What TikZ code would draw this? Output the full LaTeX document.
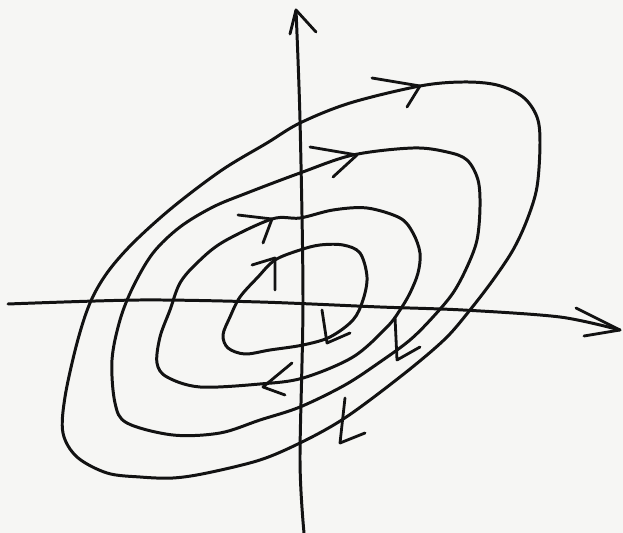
\documentclass[tikz,border=0pt]{standalone}
\usetikzlibrary{calc}
\definecolor{ink}{RGB}{18,18,18}
\definecolor{paper}{RGB}{246,246,244}
\tikzset{
  stroke/.style={draw=ink, line width=1.7pt, line cap=round, line join=round},
  loopline/.style={smooth cycle, tension=0.55},
  axisline/.style={smooth, tension=0.5},
  barb/.style={stroke, line width=1.6pt},
}

\begin{document}
\begin{tikzpicture}[x=0.02cm, y=-0.02cm]
  % page in pixel units, y pointing down
  \fill[paper] (0,0) rectangle (623,533);
  \useasboundingbox (0,0) rectangle (623,533);

  % axes
  \coordinate (ybot) at (304,533);
  \coordinate (ytop) at (296,10);
  \coordinate (xleft) at (8,304);
  \coordinate (xright) at (620,330);
  \draw[stroke] plot[axisline] coordinates
    {(ybot) (300,460) (303,300) (300,120) (ytop)};
  \draw[barb] (290,34) -- (ytop) -- (316,32);
  \draw[stroke] plot[axisline] coordinates
    {(xleft) (140,300) (260,302) (380,307) (463,310) (560,317) (xright)};
  \draw[barb] (576,308) -- (xright) -- (584,336);

  % outer orbit
  \draw[stroke] plot[loopline] coordinates {
    (300,123) (350,103) (420,86) (463,82) (497,85) (523,97) (537,117)
    (540,143) (537,187) (527,220) (513,250) (493,280) (470,310) (447,337)
    (415,365) (370,400) (337,423) (300,443) (260,460) (207,473) (173,478)
    (140,477) (107,473) (77,457) (63,433) (65,397) (77,343) (90,303)
    (107,273) (133,243) (173,207) (222,170) (267,143)};
  \draw[barb] (372,78) -- (420,86) -- (407,107);
  \draw[barb] (345,398) -- (340,443) -- (365,433);

  % second orbit
  \draw[stroke] plot[loopline] coordinates {
    (300,173) (353,155) (413,148) (447,152) (467,160) (478,180) (480,207)
    (477,240) (467,267) (453,293) (433,317) (410,340) (380,362) (345,385)
    (300,407) (260,420) (220,433) (173,435) (127,423) (115,403)
    (112,360) (120,320) (133,287) (153,253) (180,227) (213,207) (247,193)};
  \draw[barb] (310,147) -- (357,155) -- (333,177);
  \draw[barb] (395,317) -- (397,360) -- (420,347);

  % third orbit
  \draw[stroke] plot[loopline] coordinates {
    (272,219) (300,218) (333,210) (367,208) (400,218) (413,233) (420,253)
    (418,273) (410,293) (400,310) (387,327) (353,357) (303,378) (260,384)
    (200,387) (167,377) (157,363) (160,337) (170,310) (180,283) (197,263)
    (223,242)};
  \draw[barb] (238,215) -- (272,219) -- (263,243);
  \draw[barb] (292,363) -- (263,387) -- (285,395);

  % inner orbit
  \draw[stroke] plot[loopline] coordinates {
    (275,260) (300,250) (320,245) (343,245) (360,253) (367,277) (363,300)
    (353,320) (330,337) (303,345) (270,350) (245,354) (228,348) (223,335)
    (230,317) (240,297) (258,277)};
  \draw[barb] (252,265) -- (275,258) -- (275,290);
  \draw[barb] (322,310) -- (327,343) -- (350,333);
\end{tikzpicture}
\end{document}
